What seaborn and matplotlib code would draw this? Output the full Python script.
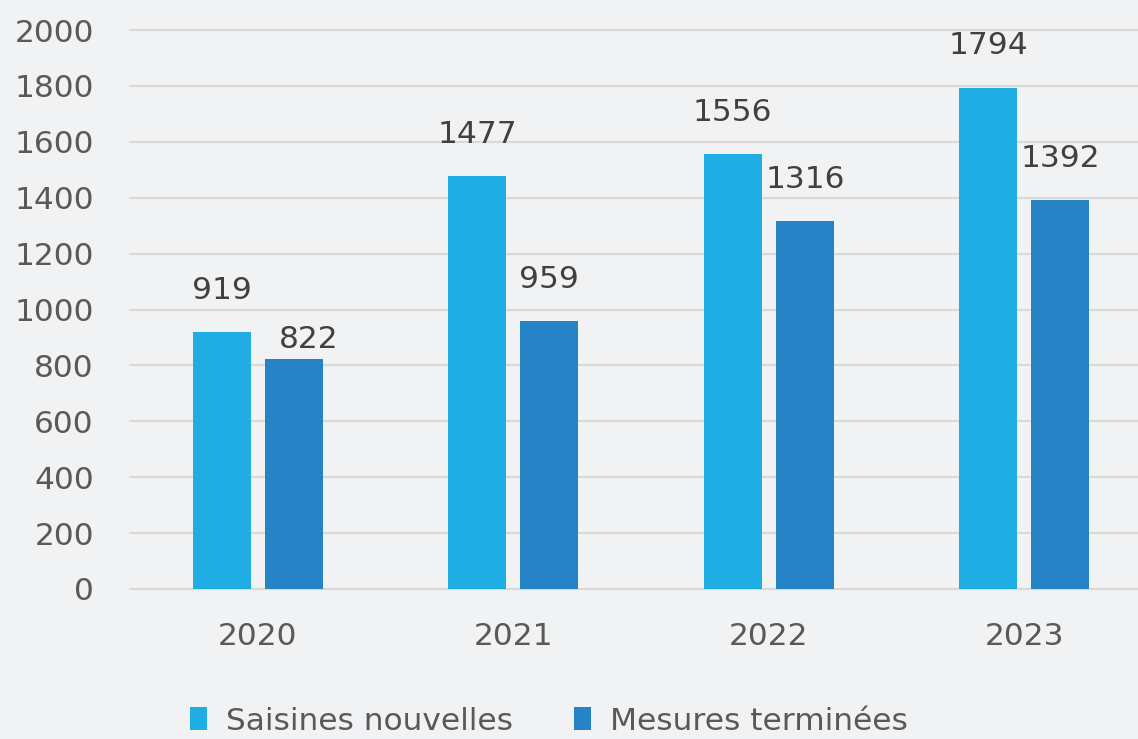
import numpy as np
import pandas as pd
import matplotlib.pyplot as plt
import seaborn as sns

# Data
years = ['2020', '2021', '2022', '2023']
saisines = [919, 1477, 1556, 1794]
mesures = [822, 959, 1316, 1392]
series_names = ['Saisines nouvelles', 'Mesures terminées']
colors = ['#1fade4', '#2683c6']

df = pd.DataFrame({
    'year': years * 2,
    'value': saisines + mesures,
    'series': [series_names[0]] * len(years) + [series_names[1]] * len(years),
})

bg = '#f1f2f4'
sns.set_theme(style='white')
plt.rcParams['font.family'] = ['DejaVu Sans']

fig = plt.figure(figsize=(11.38, 7.39), dpi=100, facecolor=bg)
ax = fig.add_axes([130 / 1138, 150 / 739, 1022 / 1138, 559 / 739])
ax.set_facecolor(bg)

sns.barplot(data=df, x='year', y='value', hue='series', palette=colors,
            width=0.565, gap=0.2, saturation=1, linewidth=0, ax=ax, legend=True)

ax.set_xlim(-0.5, 3.5)
ax.set_ylim(0, 2000)
ax.set_yticks(np.arange(0, 2001, 200))
ax.yaxis.grid(True, color='#d9d9d9', linewidth=1.5)
for line in ax.get_ygridlines():
    line.set_clip_on(False)
ax.set_axisbelow(True)
for s in ax.spines.values():
    s.set_visible(False)
ax.tick_params(axis='both', length=0, labelsize=22.5, labelcolor='#595959')
ax.tick_params(axis='y', pad=26)
ax.tick_params(axis='x', pad=24)
ax.set_xlabel('')
ax.set_ylabel('')

# Value labels above the bars
for container in ax.containers:
    for bar in container:
        h = bar.get_height()
        dx, dy = 0, 19.5
        if int(h) == 822:
            dx, dy = 11, 3.6
        ax.annotate(f'{int(h)}', (bar.get_x() + bar.get_width() / 2, h),
                    xytext=(dx, dy), textcoords='offset points',
                    ha='center', va='bottom', fontsize=22.5, color='#404040')

handles, labels = ax.get_legend_handles_labels()
ax.get_legend().remove()
fig.legend(handles, labels, loc='center', bbox_to_anchor=(549 / 1138, 1 - 721 / 739),
           ncol=2, frameon=False, fontsize=22.5, labelcolor='#595959',
           handlelength=0.55, handleheight=0.75, handletextpad=0.6, columnspacing=1.95)

fig.savefig('out.png', dpi=100, facecolor=bg)
